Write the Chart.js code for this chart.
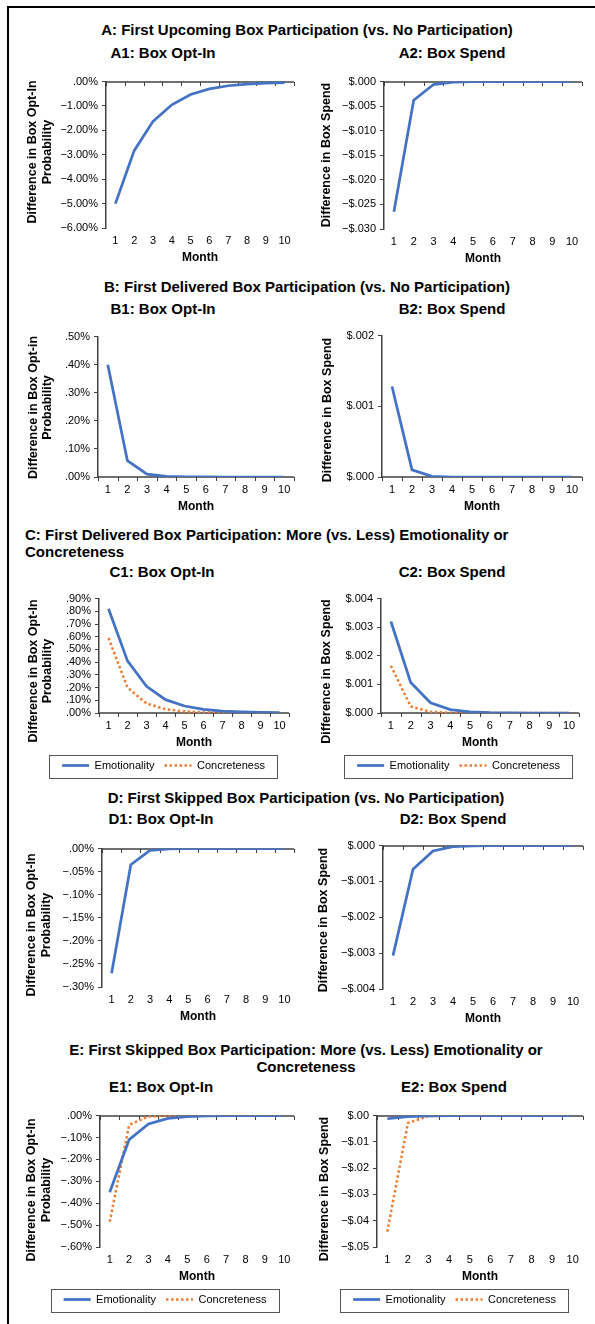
<!DOCTYPE html>
<html lang="en">
<head>
<meta charset="UTF-8">
<title>Box participation effects by month</title>
<script src="https://cdn.jsdelivr.net/npm/chart.js"></script>
<style>
  body { margin: 0; background: #fff; font-family: "Liberation Sans", Arial, sans-serif; }
  #page { position: relative; width: 595px; height: 1324px; overflow: hidden; }
  #frame { position: absolute; left: 7px; top: 6px; width: 620px; height: 1340px; border-left: 2px solid #000; border-top: 2px solid #000; }
  .t { position: absolute; font-weight: bold; font-size: 15px; line-height: 18px; white-space: nowrap; color: #000; }
  .hd { width: 500px; text-align: center; }
  .pt { width: 300px; text-align: center; }
  canvas { position: absolute; }
</style>
</head>
<body>
<div id="page">
  <div id="frame"></div>

  <div class="t hd" style="left:57px; top:21px;">A: First Upcoming Box Participation (vs. No Participation)</div>
  <div class="t pt" style="left:13px; top:44px;">A1: Box Opt-In</div>
  <div class="t pt" style="left:302px; top:44px;">A2: Box Spend</div>

  <div class="t hd" style="left:57px; top:278px;">B: First Delivered Box Participation (vs. No Participation)</div>
  <div class="t pt" style="left:13px; top:300px;">B1: Box Opt-In</div>
  <div class="t pt" style="left:302px; top:300px;">B2: Box Spend</div>

  <div class="t" style="left:25px; top:526px; line-height:17px;">C: First Delivered Box Participation: More (vs. Less) Emotionality or<br>Concreteness</div>
  <div class="t pt" style="left:12px; top:563px;">C1: Box Opt-In</div>
  <div class="t pt" style="left:302px; top:563px;">C2: Box Spend</div>

  <div class="t hd" style="left:56px; top:789px;">D: First Skipped Box Participation (vs. No Participation)</div>
  <div class="t pt" style="left:11px; top:810px;">D1: Box Opt-In</div>
  <div class="t pt" style="left:303px; top:810px;">D2: Box Spend</div>

  <div class="t hd" style="left:56px; top:1041px; line-height:17.3px;">E: First Skipped Box Participation: More (vs. Less) Emotionality or<br>Concreteness</div>
  <div class="t pt" style="left:11px; top:1078px;">E1: Box Opt-In</div>
  <div class="t pt" style="left:304px; top:1078px;">E2: Box Spend</div>
</div>

<script>
Chart.defaults.font.family = '"Liberation Sans", Arial, sans-serif';
Chart.defaults.color = '#000';
Chart.defaults.animation = false;

const months = ['1', '2', '3', '4', '5', '6', '7', '8', '9', '10'];
const seriesNames = ['Emotionality', 'Concreteness'];

// opt-in values are in percent, spend values in dollars
const upcomingOptIn = [-5.0, -2.83, -1.63, -0.95, -0.53, -0.30, -0.17, -0.10, -0.06, -0.04];
const upcomingSpend = [-0.0265, -0.0038, -0.0006, -0.0001, -0.00003, -0.00001, 0, 0, 0, 0];

const deliveredOptIn = [0.40, 0.058, 0.010, 0.002, 0.0005, 0.0001, 0, 0, 0, 0];
const deliveredSpend = [0.00128, 0.0001, 0.00001, 0, 0, 0, 0, 0, 0, 0];

const deliveredOptInEmo = [0.82, 0.41, 0.21, 0.105, 0.055, 0.028, 0.015, 0.008, 0.004, 0.002];
const deliveredOptInCon = [0.59, 0.20, 0.075, 0.03, 0.012, 0.005, 0.002, 0.001, 0.0004, 0.0002];
const deliveredSpendEmo = [0.0032, 0.00107, 0.00036, 0.00012, 0.00004, 0.000013, 0.000004, 0, 0, 0];
const deliveredSpendCon = [0.00165, 0.00023, 0.00004, 0.000005, 0, 0, 0, 0, 0, 0];

const skippedOptIn = [-0.27, -0.035, -0.004, -0.0005, -0.0001, 0, 0, 0, 0, 0];
const skippedSpend = [-0.00307, -0.00066, -0.00015, -0.00003, -0.000007, 0, 0, 0, 0, 0];

const skippedOptInEmo = [-0.35, -0.11, -0.038, -0.013, -0.0045, -0.0015, -0.0005, -0.0002, 0, 0];
const skippedOptInCon = [-0.485, -0.043, -0.004, -0.0004, 0, 0, 0, 0, 0, 0];
const skippedSpendEmo = [-0.0012, -0.0004, -0.00012, -0.00004, 0, 0, 0, 0, 0, 0];
const skippedSpendCon = [-0.0442, -0.0028, -0.0002, -0.00001, 0, 0, 0, 0, 0, 0];

// y ranges: [min, max, step]
const rangeA1 = [-6, 0, 1], rangeA2 = [-0.03, 0, 0.005];
const rangeB1 = [0, 0.5, 0.1], rangeB2 = [0, 0.002, 0.001];
const rangeC1 = [0, 0.9, 0.1], rangeC2 = [0, 0.004, 0.001];
const rangeD1 = [-0.3, 0, 0.05], rangeD2 = [-0.004, 0, 0.001];
const rangeE1 = [-0.6, 0, 0.1], rangeE2 = [-0.05, 0, 0.01];

const optInTitle = ['Difference in Box Opt-In', 'Probability'];
const optInTitleLower = ['Difference in Box Opt-in', 'Probability'];
const spendTitle = ['Difference in Box Spend'];

const blue = '#4472C4', orange = '#ED7D31', axisColor = '#404040';

function pct(v) {
  const s = Math.abs(v).toFixed(2).replace(/^0/, '');
  return (v < -1e-9 ? '\u2212' : '') + s + '%';
}
function usd(d) {
  return v => {
    const s = Math.abs(v).toFixed(d).replace(/^0/, '');
    return (v < -1e-12 ? '\u2212' : '') + '$' + s;
  };
}

// horizontal axis drawn at value 0, ticks at category edges
const zeroAxis = {
  id: 'zeroAxis',
  beforeDatasetsDraw(chart) {
    const { ctx, chartArea, scales: { x, y } } = chart;
    const y0 = Math.round(y.getPixelForValue(0));
    ctx.save();
    ctx.strokeStyle = axisColor;
    ctx.lineWidth = 1.5;
    ctx.beginPath();
    ctx.moveTo(chartArea.left, y0);
    ctx.lineTo(chartArea.right, y0);
    ctx.stroke();
    ctx.lineWidth = 1;
    ctx.beginPath();
    for (let i = 0; i <= months.length; i++) {
      const bx = Math.round(x.getPixelForValue(i - 0.5)) + 0.5;
      ctx.moveTo(bx, y0);
      ctx.lineTo(bx, y0 + 4);
    }
    ctx.stroke();
    ctx.restore();
  }
};

// y title (placed like the original, not centred on the axis) and legend frame
function panelExtras(p) {
  const top = p.plot[1] - 8;
  return {
    id: 'panelExtras',
    beforeDraw(chart) {
      const lg = chart.legend;
      if (!lg || !lg.options.display || !lg.legendHitBoxes.length) return;
      const hb = lg.legendHitBoxes;
      const l = Math.min(...hb.map(b => b.left)), r = Math.max(...hb.map(b => b.left + b.width));
      const dx = Math.round((p.legendCenter - p.left) - (l - 13 + r + 12) / 2);
      if (!lg._shifted) {
        lg.left += dx; lg.right += dx;
        hb.forEach(b => { b.left += dx; });
        lg._shifted = true;
      }
    },
    afterDraw(chart) {
      const ctx = chart.ctx;
      ctx.save();
      ctx.font = 'bold 12.5px "Liberation Sans", Arial, sans-serif';
      ctx.fillStyle = '#000';
      ctx.textAlign = 'center';
      ctx.textBaseline = 'middle';
      p.yTitle.forEach((line, i) => {
        ctx.save();
        ctx.translate(p.titlePos[0] - p.left + i * 14.5, p.titlePos[1] - top);
        ctx.rotate(-Math.PI / 2);
        ctx.fillText(line, 0, 0);
        ctx.restore();
      });
      const lg = chart.legend;
      if (lg && lg.options.display && lg.legendHitBoxes.length) {
        const hb = lg.legendHitBoxes;
        const l = Math.min(...hb.map(b => b.left)) - 13;
        const r = Math.max(...hb.map(b => b.left + b.width)) + 12;
        const cy = hb[0].top + hb[0].height / 2 + 1;
        ctx.strokeStyle = '#555';
        ctx.lineWidth = 1;
        ctx.strokeRect(Math.round(l) + 0.5, Math.round(cy - 11.5) + 0.5, Math.round(r - l), 23);
      }
      ctx.restore();
    }
  };
}

const panels = [
  { left: 20, plot: [106, 79, 294, 228], titlePos: [32.7, 152], range: rangeA1, fmt: pct, yTitle: optInTitle, series: [upcomingOptIn] },
  { left: 312, plot: [384, 79, 582, 229], titlePos: [326.7, 155], range: rangeA2, fmt: usd(3), yTitle: spendTitle, series: [upcomingSpend] },
  { left: 20, plot: [98, 334, 294, 477], titlePos: [33.3, 407.5], range: rangeB1, fmt: pct, yTitle: optInTitleLower, series: [deliveredOptIn] },
  { left: 312, plot: [382, 333, 582, 477], titlePos: [328, 410], range: rangeB2, fmt: usd(3), yTitle: spendTitle, series: [deliveredSpend] },
  { left: 20, plot: [99, 596, 289, 713], titlePos: [33.3, 671], legendCenter: 162.5, range: rangeC1, fmt: pct, yTitle: optInTitle, series: [deliveredOptInEmo, deliveredOptInCon] },
  { left: 312, plot: [381, 596, 579, 713], titlePos: [326.7, 671.5], legendCenter: 458, range: rangeC2, fmt: usd(3), yTitle: spendTitle, series: [deliveredSpendEmo, deliveredSpendCon] },
  { left: 20, plot: [102, 846, 294, 987], titlePos: [31.7, 925], range: rangeD1, fmt: pct, yTitle: optInTitle, series: [skippedOptIn] },
  { left: 308, plot: [383, 843, 583, 989], titlePos: [323.3, 920], range: rangeD2, fmt: usd(3), yTitle: spendTitle, series: [skippedSpend] },
  { left: 20, plot: [100, 1113, 294, 1247], titlePos: [31.7, 1190], legendCenter: 164.2, range: rangeE1, fmt: pct, yTitle: optInTitle, series: [skippedOptInEmo, skippedOptInCon] },
  { left: 310, plot: [377, 1113, 583, 1247], titlePos: [325, 1189], legendCenter: 454.2, range: rangeE2, fmt: usd(2), yTitle: spendTitle, series: [skippedSpendEmo, skippedSpendCon] }
];

function makeChart(p) {
  const [pl, pt, pr, pb] = p.plot;
  const hasLegend = p.series.length > 1;
  const w = pr + 5 - p.left;
  const h = 8 + (pb - pt) + 37 + (hasLegend ? 31 : 0);
  const cv = document.createElement('canvas');
  cv.width = w;
  cv.height = h;
  cv.style.left = p.left + 'px';
  cv.style.top = (pt - 8) + 'px';
  cv.style.width = w + 'px';
  cv.style.height = h + 'px';
  document.getElementById('page').appendChild(cv);

  const datasets = p.series.map((data, i) => ({
    label: seriesNames[i],
    data: data,
    borderColor: i === 0 ? blue : orange,
    backgroundColor: i === 0 ? blue : orange,
    borderWidth: i === 0 ? 2.75 : 2.5,
    borderDash: i === 0 ? [] : [2.5, 2.5],
    pointRadius: 0,
    tension: 0,
    fill: false
  }));

  new Chart(cv, {
    type: 'line',
    data: { labels: months, datasets: datasets },
    plugins: [zeroAxis, panelExtras(p)],
    options: {
      responsive: false,
      devicePixelRatio: 1,
      layout: { padding: { top: 8, right: 5, bottom: 0, left: 0 } },
      plugins: {
        tooltip: { enabled: false },
        legend: {
          display: hasLegend,
          position: 'bottom',
          labels: {
            usePointStyle: true,
            pointStyle: 'line',
            pointStyleWidth: 27,
            boxHeight: 11,
            padding: 10,
            color: '#000',
            font: { size: 11 },
            generateLabels(chart) {
              const items = Chart.defaults.plugins.legend.labels.generateLabels(chart);
              items.forEach((it, i) => {
                const ds = chart.data.datasets[i];
                it.lineDash = ds.borderDash;
                it.lineWidth = ds.borderWidth;
                it.strokeStyle = ds.borderColor;
                it.pointStyle = 'line';
              });
              return items;
            }
          }
        }
      },
      scales: {
        x: {
          offset: true,
          grid: { display: false, drawTicks: false },
          border: { display: false },
          ticks: { font: { size: 11 }, padding: 6, color: '#000', maxRotation: 0, autoSkip: false },
          title: { display: true, text: 'Month', color: '#000', padding: 0, font: { size: 12, weight: 'bold', lineHeight: 1.2 } },
          afterFit(s) { s.height = 37; }
        },
        y: {
          min: p.range[0],
          max: p.range[1],
          ticks: { stepSize: p.range[2], autoSkip: false, font: { size: 11 }, padding: 4, color: '#000', callback: v => p.fmt(v) },
          grid: { drawOnChartArea: false, drawTicks: true, tickLength: 4, color: axisColor },
          border: { display: true, color: axisColor, width: 1.5 },
          title: { display: false },
          afterFit(s) { s.width = pl - p.left; }
        }
      }
    }
  });
}

panels.forEach(makeChart);
</script>
</body>
</html>
